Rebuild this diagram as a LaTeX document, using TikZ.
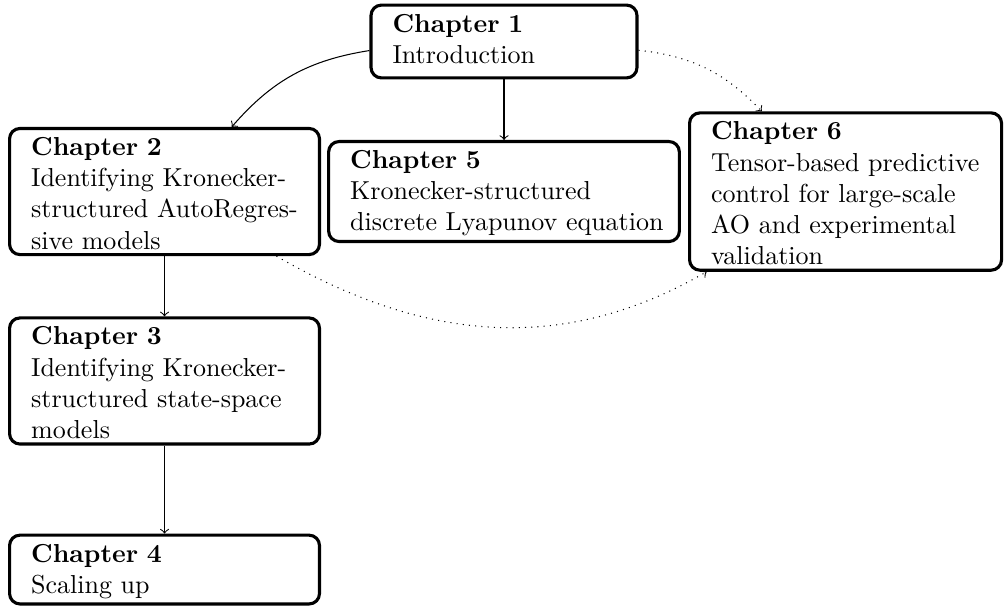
\documentclass[tikz,border=0pt]{standalone}
\usepackage{amsmath}

\newcommand{\chaptext}[2]{\strut\textbf{Chapter #1}\\#2}

\begin{document}
\begin{tikzpicture}[chapbox/.style={draw,very thick,rounded corners,align=left,inner xsep=5.2pt,inner ysep=2pt,execute at begin node={\leftskip=3.1pt}}]
  \useasboundingbox (0,0) rectangle (13.599,-8.219);

  \node[chapbox,text width=91.9pt] (ch1) at (6.813,-0.561) {\chaptext{1}{Introduction\strut}};
  \node[chapbox,text width=108.8pt] (ch2) at (2.224,-2.589) {\chaptext{2}{Identifying Kronecker-structured AutoRegres\-sive models}};
  \node[chapbox,text width=124.5pt] (ch5) at (6.813,-2.589) {\chaptext{5}{Kronecker-structured\\\mbox{discrete Lyapunov equation}}};
  \node[chapbox,text width=109.6pt] (ch6) at (11.430,-2.589) {\chaptext{6}{Tensor-based predictive control for large-scale AO and experimental validation}};
  \node[chapbox,text width=108.8pt] (ch3) at (2.224,-5.150) {\chaptext{3}{Identifying Kronecker-structured state-space models}};
  \node[chapbox,text width=108.8pt] (ch4) at (2.224,-7.699) {\chaptext{4}{Scaling up}};

  \draw[->] (ch1) to[bend right=20] (ch2);
  \draw[->] (ch1) -- (ch5);
  \draw[->,dotted] (ch1) to[bend left=20] (ch6);
  \draw[->] (ch2) -- (ch3);
  \draw[->] (ch3) -- (ch4);
  \draw[->,dotted] (ch2.-30) to[out=-30,in=210] (ch6.210);
\end{tikzpicture}
\end{document}
